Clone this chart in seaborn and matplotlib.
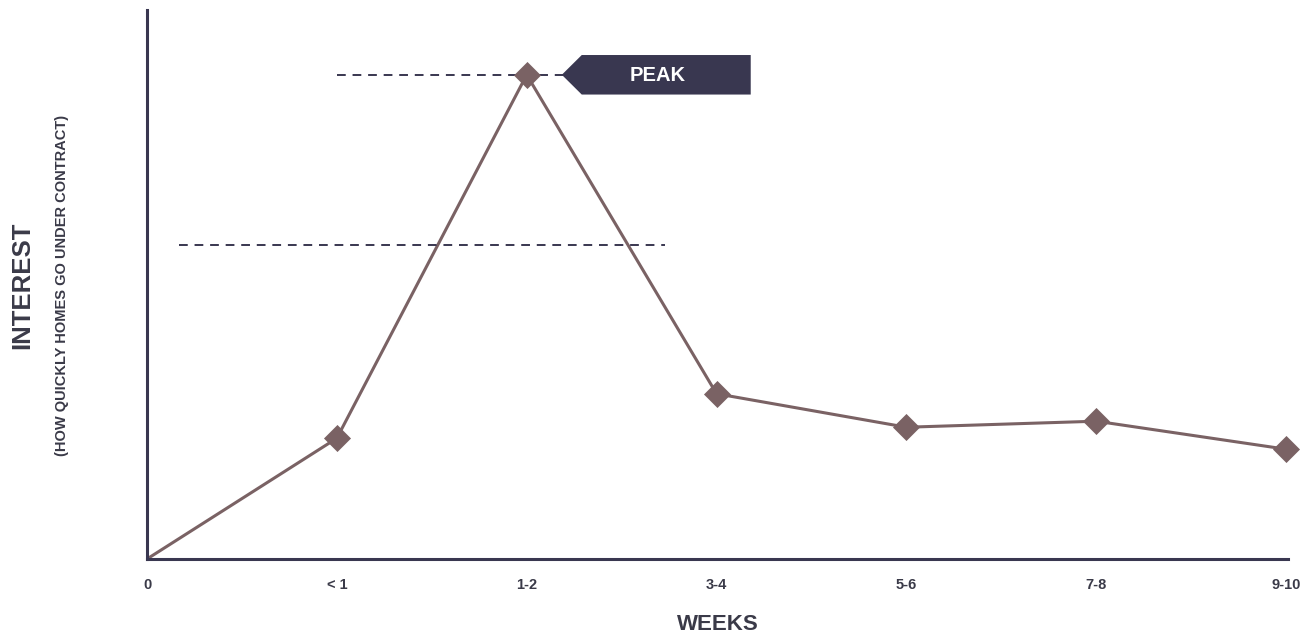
import matplotlib
matplotlib.use("Agg")
import matplotlib.pyplot as plt
import seaborn as sns
import pandas as pd
from matplotlib.patches import Polygon

weeks = ["0", "< 1", "1-2", "3-4", "5-6", "7-8", "9-10"]
interest = [0, 22.0, 88.2, 30.1, 24.0, 25.1, 20.0]
peak_ref = 88.2
avg_ref = 57.2

LINE = "#7a6264"
DARK = "#393750"
TEXT = "#3a3a48"

sns.set_theme(style="white")
plt.rcParams["font.family"] = ["Liberation Sans", "DejaVu Sans"]

df = pd.DataFrame({"pos": range(len(weeks)), "interest": interest})

fig = plt.figure(figsize=(13.15, 6.37), dpi=100)
ax = fig.add_axes([147/1315, 1-559/637, 1141/1315, 549/637])

sns.lineplot(data=df, x="pos", y="interest", ax=ax, color=LINE, linewidth=2.2)
sns.scatterplot(data=df.iloc[1:], x="pos", y="interest", ax=ax, color=LINE,
                marker="D", s=190, edgecolor=LINE, linewidth=0, zorder=5, clip_on=False)

ax.set_xlim(0, 6.01)
ax.set_ylim(0, 100)

# dashed reference lines
ax.plot([1.0, 2.2], [peak_ref, peak_ref], ls=(0, (4.5, 3.5)), color=DARK, lw=1.4, zorder=3)
ax.plot([0.17, 2.73], [avg_ref, avg_ref], ls=(0, (4.5, 3.5)), color=DARK, lw=1.4, zorder=3)

# PEAK tag
tip_x = 2.185
notch = 2.29
right = 3.18
h = 3.6
poly = Polygon([[tip_x, peak_ref], [notch, peak_ref + h], [right, peak_ref + h],
                [right, peak_ref - h], [notch, peak_ref - h]],
               closed=True, facecolor=DARK, edgecolor="none", zorder=6)
ax.add_patch(poly)
ax.text(2.69, peak_ref - 0.2, "PEAK", color="white",
        fontsize=14.5, fontweight="bold", ha="center", va="center", zorder=7)

for s in ["top", "right"]:
    ax.spines[s].set_visible(False)
for s in ["left", "bottom"]:
    ax.spines[s].set_color(DARK)
    ax.spines[s].set_linewidth(2.2)

ax.set_xticks(range(len(weeks)))
ax.set_xticklabels(weeks, fontsize=10.5, fontweight="bold", color=TEXT)
ax.tick_params(axis="x", length=0, pad=13.5)
ax.set_yticks([])
ax.set_xlabel("WEEKS", fontsize=16, fontweight="bold", color=TEXT, va="center")
ax.xaxis.set_label_coords(0.5 + (718 - 717.5) / 1141, (559 - 624) / 549)
ax.set_ylabel("")

fig.text(22/1315, 1-285/637, "INTEREST", rotation=90, fontsize=18.5, fontweight="bold",
         color=TEXT, ha="center", va="center")
fig.text(62/1315, 1-285/637, "(HOW QUICKLY HOMES GO UNDER CONTRACT)", rotation=90,
         fontsize=10.5, fontweight="bold", color=TEXT, ha="center", va="center")

fig.savefig("out.png", dpi=100)
